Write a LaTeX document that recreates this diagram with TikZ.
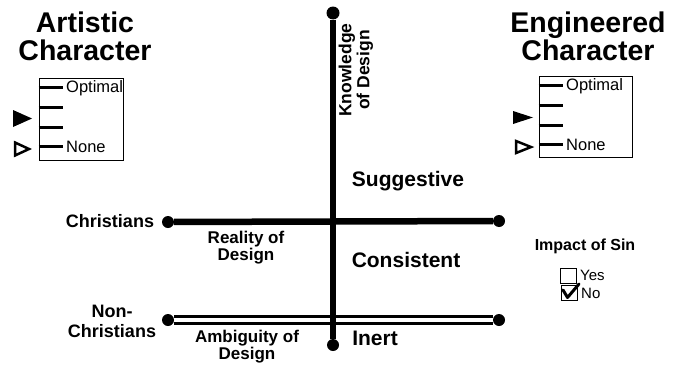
\documentclass[tikz,border=0pt]{standalone}
\usepackage{fontspec}
\setmainfont{Liberation Sans}
\usetikzlibrary{positioning}

\begin{document}
\begin{tikzpicture}[
  x=1pt, y=-1pt,
  title/.style={font=\fontsize{28.5}{28}\selectfont\bfseries, align=center, inner sep=0pt},
  zone/.style={font=\fontsize{21}{22}\selectfont\bfseries, inner sep=0pt},
  axlbl/.style={font=\fontsize{17}{17}\selectfont\bfseries, align=center, inner sep=0pt},
  grplbl/.style={font=\fontsize{18}{20}\selectfont\bfseries, align=center, inner sep=0pt},
  gauge/.style={draw=black, line width=0.8pt, minimum width=84pt, minimum height=82pt, inner sep=0pt},
  gtick/.style={line width=2.5pt},
  glbl/.style={font=\fontsize{16.5}{16}\selectfont, inner sep=0pt, anchor=west},
  enddot/.style={circle, fill=black, minimum size=13pt, inner sep=0pt},
  axis/.style={line width=6.5pt},
  hollow/.style={line width=3.3pt, double=white, double distance=4pt},
  chkbox/.style={draw=black, line width=1pt, minimum width=16pt, minimum height=15pt, inner sep=0pt},
  chklbl/.style={font=\fontsize{15}{15}\selectfont, inner sep=0pt, anchor=west},
]
  \fill[white] (0,0) rectangle (674,364);
  \useasboundingbox (0,0) rectangle (674,364);

  % Titles
  \node[title] (arttitle) at (85,36.5) {Artistic\\Character};
  \node[title] (engtitle) at (588,36.5) {Engineered\\Character};

  % Left gauge
  \node[gauge] (artgauge) at (81,119) {};
  \foreach \dy in {10,30,50,69}
    \draw[gtick] ([yshift=-\dy pt]artgauge.north west) -- ++(24,0);
  \node[glbl] (artopt) at (66,88) {Optimal};
  \node[glbl] (artnone) at (66,147) {None};
  \fill (13,110) -- (32,118.5) -- (13,127) -- cycle;
  \draw[line width=2.5pt, line join=miter] (15,142.5) -- (29,149) -- (15,155.5) -- cycle;

  % Right gauge
  \node[gauge, minimum width=93pt, minimum height=81pt] (enggauge) at (585.5,116.5) {};
  \foreach \dy in {10,30,50,69}
    \draw[gtick] ([yshift=-\dy pt]enggauge.north west) -- ++(24,0);
  \node[glbl] (engopt) at (566,86) {Optimal};
  \node[glbl] (engnone) at (566,145) {None};
  \fill (513,111) -- (533,117.5) -- (513,124) -- cycle;
  \draw[line width=2.5pt, line join=miter] (516,141) -- (531,147) -- (516,153) -- cycle;

  % Axis end points
  \node[enddot] (ktop) at (333,13) {};
  \node[enddot, minimum size=12pt] (kbot) at (333,345) {};
  \node[enddot, minimum size=12pt] (rleft) at (168,222) {};
  \node[enddot, minimum size=12pt] (rright) at (499,221) {};
  \node[enddot, minimum size=12pt] (aleft) at (168,320) {};
  \node[enddot, minimum size=12pt] (aright) at (499,320) {};

  % Axes
  \draw[axis] (rleft) -- (rright);
  \draw[hollow] (aleft) -- (aright);
  \draw[axis] (ktop) -- (kbot);

  % Axis labels
  \node[axlbl, rotate=90, font=\fontsize{17.5}{18}\selectfont\bfseries] (know) at (356,70) {Knowledge\\of Design};
  \node[axlbl] (reality) at (246,248) {Reality of\\Design};
  \node[axlbl] (ambig) at (247,347) {Ambiguity of\\Design};
  \node[grplbl] (chr) at (110,221) {Christians};
  \node[grplbl] (nonchr) at (112,321) {Non-\\Christians};

  % Zones
  \node[zone] (sugg) at (408,181) {Suggestive};
  \node[zone] (cons) at (406,260) {Consistent};
  \node[zone] (inert) at (375,338) {Inert};

  % Impact of Sin
  \node[axlbl, font=\fontsize{16}{16}\selectfont\bfseries] (sin) at (585,246) {Impact of Sin};
  \node[chkbox] (yesbox) at (568.5,275.5) {};
  \node[chklbl] (yes) at (580,275.5) {Yes};
  \node[chkbox] (nobox) at (569,292.5) {};
  \node[chklbl] (no) at (581,293) {No};
  \draw[line width=3pt, line cap=round, line join=round] (563,290) -- (567.5,297.5) -- (579,284);
\end{tikzpicture}
\end{document}
